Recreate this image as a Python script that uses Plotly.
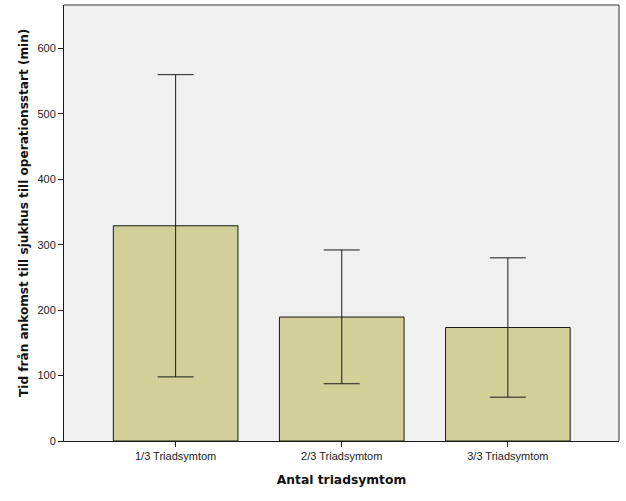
import plotly.graph_objects as go

categories = ["1/3 Triadsymtom", "2/3 Triadsymtom", "3/3 Triadsymtom"]
means = [329, 189.5, 173.5]
upper = [560, 292, 280]
lower = [98, 87.5, 67]

err_plus = [u - m for u, m in zip(upper, means)]
err_minus = [m - l for m, l in zip(means, lower)]

fig = go.Figure()
fig.add_trace(go.Bar(
    x=[0, 1, 2], y=means, width=0.75,
    marker=dict(color="#d3cf98", line=dict(color="#1a1a1a", width=1)),
    error_y=dict(type="data", symmetric=False, array=err_plus, arrayminus=err_minus,
                 color="#1a1a1a", thickness=1, width=18),
))

fig.update_layout(
    width=626, height=501,
    margin=dict(l=64, r=7, t=5, b=60),
    paper_bgcolor="white", plot_bgcolor="#f0f0f0",
    showlegend=False,
    xaxis=dict(range=[-0.672, 2.669], tickmode="array", tickvals=[0, 1, 2], ticktext=categories,
               showgrid=False, zeroline=False, showline=True, linecolor="#1a1a1a", linewidth=1,
               ticks="outside", ticklen=5, tickcolor="#1a1a1a",
               tickfont=dict(family="Liberation Sans, Arial", size=11, color="#222"),
               title=dict(text="Antal triadsymtom", standoff=14,
                          font=dict(family="DejaVu Sans", size=12.3, color="#111", weight="bold"))),
    yaxis=dict(range=[0, 666.5], tickvals=[0, 100, 200, 300, 400, 500, 600],
               showgrid=False, zeroline=False, showline=True, linecolor="#1a1a1a", linewidth=1,
               ticks="outside", ticklen=5, tickcolor="#1a1a1a",
               tickfont=dict(family="Liberation Sans, Arial", size=11, color="#222")),
    annotations=[
        dict(text="Tid från ankomst till sjukhus till operationsstart (min)",
             xref="paper", yref="paper", x=-0.072, y=0.523, xanchor="center", yanchor="middle",
             textangle=-90, showarrow=False,
             font=dict(family="DejaVu Sans", size=12.1, color="#111", weight="bold")),
    ],
    shapes=[
        dict(type="line", xref="paper", yref="paper", x0=0, x1=1, y0=1, y1=1,
             line=dict(color="#777", width=1.5)),
        dict(type="line", xref="paper", yref="paper", x0=1, x1=1, y0=0, y1=1,
             line=dict(color="#333", width=1)),
    ],
)

fig.write_html("out.html", config={"displayModeBar": False},
               post_script="document.body.style.margin='0px';")
